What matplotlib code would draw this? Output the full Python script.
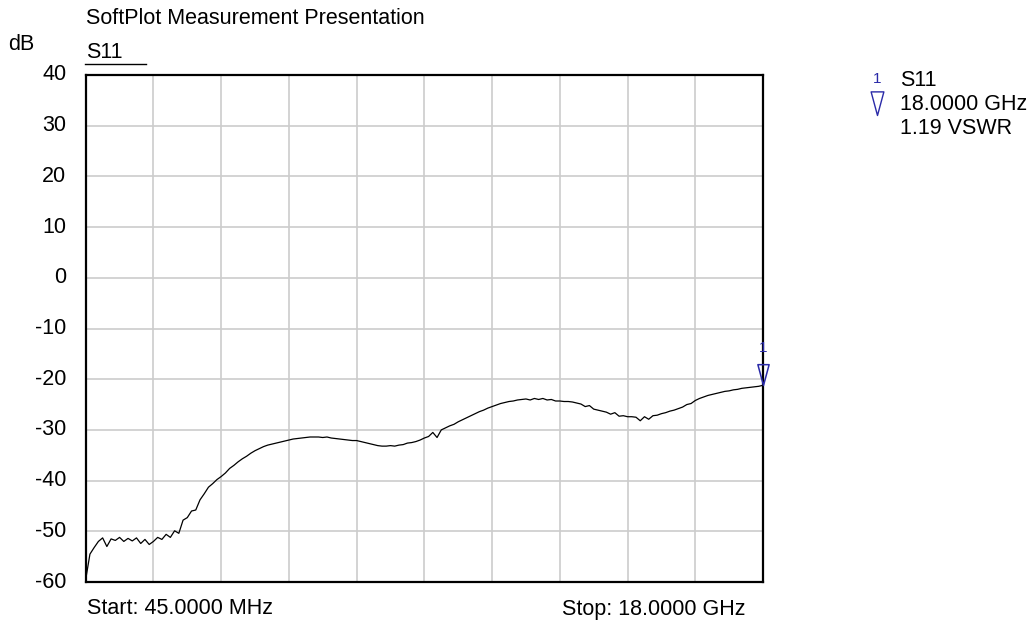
import numpy as np
import matplotlib
matplotlib.use("Agg")
import matplotlib.pyplot as plt
from matplotlib.lines import Line2D
from matplotlib.path import Path

plt.rcParams['font.family'] = ['Liberation Sans', 'DejaVu Sans']

# ---------------- data ----------------
start_ghz = 0.045
stop_ghz = 18.0
s11_db = [
    -59.5, -54.5, -53.2, -52.0, -51.3, -53.0, -51.5, -51.8, -51.2, -52.0,
    -51.4, -51.9, -51.3, -52.4, -51.6, -52.6, -52.0, -51.2, -51.6, -50.6,
    -51.2, -49.9, -50.4, -47.8, -47.3, -46.0, -45.8, -43.8, -42.6, -41.3,
    -40.6, -39.8, -39.2, -38.5, -37.6, -37.0, -36.3, -35.7, -35.2, -34.6,
    -34.1, -33.7, -33.3, -33.0, -32.8, -32.6, -32.4, -32.2, -32.0, -31.8,
    -31.7, -31.6, -31.5, -31.4, -31.4, -31.4, -31.5, -31.4, -31.6, -31.7,
    -31.8, -31.9, -32.0, -32.1, -32.1, -32.3, -32.5, -32.7, -32.9, -33.1,
    -33.2, -33.2, -33.1, -33.2, -33.0, -32.9, -32.6, -32.5, -32.3, -32.0,
    -31.6, -31.3, -30.5, -31.5, -30.0, -29.6, -29.2, -28.9, -28.4, -28.0,
    -27.6, -27.2, -26.8, -26.4, -26.1, -25.7, -25.4, -25.1, -24.8, -24.6,
    -24.4, -24.3, -24.1, -24.0, -23.9, -24.1, -23.8, -24.0, -23.8, -24.1,
    -24.0, -24.3, -24.3, -24.4, -24.4, -24.5, -24.7, -24.9, -25.4, -25.2,
    -25.9, -26.1, -26.3, -26.5, -26.9, -26.6, -27.3, -27.2, -27.4, -27.4,
    -27.5, -28.2, -27.4, -27.9, -27.2, -27.1, -26.8, -26.6, -26.3, -26.1,
    -25.8, -25.5, -25.0, -24.8, -24.2, -23.8, -23.5, -23.2, -23.0, -22.8,
    -22.6, -22.4, -22.3, -22.1, -22.0, -21.8, -21.7, -21.6, -21.5, -21.4,
    -21.2,
]
freq_ghz = np.linspace(start_ghz, stop_ghz, len(s11_db))
y_ticks = [40, 30, 20, 10, 0, -10, -20, -30, -40, -50, -60]
marker_freq = 18.0
marker_db = -21.2
legend_lines = ["S11", "18.0000 GHz", "1.19 VSWR"]

# ---------------- figure ----------------
W, H = 1033, 628
FS = 15.5
fig = plt.figure(figsize=(W / 100, H / 100), dpi=100)
L, R, T, B = 85.7, 763, 75, 582
ax = fig.add_axes([L / W, 1 - B / H, (R - L) / W, (B - T) / H])

ax.plot(freq_ghz, s11_db, color='black', lw=0.9)
ax.set_xlim(start_ghz, stop_ghz)
ax.set_ylim(-60, 40)

ax.set_xticks(np.linspace(start_ghz, stop_ghz, 11))
ax.set_xticklabels([])
ax.set_yticks(y_ticks)
ax.set_yticklabels([str(v) for v in y_ticks], fontsize=FS)
ax.tick_params(axis='both', length=0, pad=14)
for lab in ax.get_yticklabels():
    lab.set_va('center')
ax.grid(True, color='#cccccc', lw=1.2)
for s in ax.spines.values():
    s.set_linewidth(1.6)
    s.set_color('black')

blue = '#2a2aa8'
# marker triangle with its tip on the trace
tri = Path([(-0.27, 1.0), (0.27, 1.0), (0.0, 0.0), (-0.27, 1.0)],
           [Path.MOVETO, Path.LINETO, Path.LINETO, Path.CLOSEPOLY])
ax.plot([marker_freq], [marker_db], marker=tri, markersize=30,
        mfc='none', mec=blue, mew=1.1, clip_on=False, zorder=5)
ax.annotate("1", (marker_freq, marker_db), xytext=(0, 27),
            textcoords='offset points', ha='center', va='center',
            fontsize=11, color=blue, annotation_clip=False)

# texts
def px(x, y):
    return x / W, 1 - y / H

fig.text(*px(86, 19), "SoftPlot Measurement Presentation", fontsize=FS,
         ha='left', va='center')
fig.text(*px(8, 45), "dB", fontsize=FS, ha='left', va='center')
fig.text(*px(86, 52), "S11", fontsize=FS, ha='left', va='center')
fig.add_artist(Line2D([85 / W, 146 / W], [1 - 64 / H, 1 - 64 / H],
                      color='black', lw=1.0, transform=fig.transFigure))
fig.text(*px(87, 609), f"Start: {start_ghz*1000:.4f} MHz", fontsize=FS,
         ha='left', va='center')
fig.text(*px(562, 609), f"Stop: {stop_ghz:.4f} GHz", fontsize=FS,
         ha='left', va='center')

# marker legend
fig.text(*px(877, 79), "1", fontsize=11, color=blue, ha='center', va='center')
fig.add_artist(Line2D([876.5 / W], [1 - 115 / H], marker=tri, markersize=34,
                      mfc='none', mec=blue, mew=1.0, transform=fig.transFigure))
for i, t in enumerate(legend_lines):
    fig.text(*px(900, 81 + i * 24), t, fontsize=FS, ha='left', va='center')

fig.savefig("out.png", dpi=100)
